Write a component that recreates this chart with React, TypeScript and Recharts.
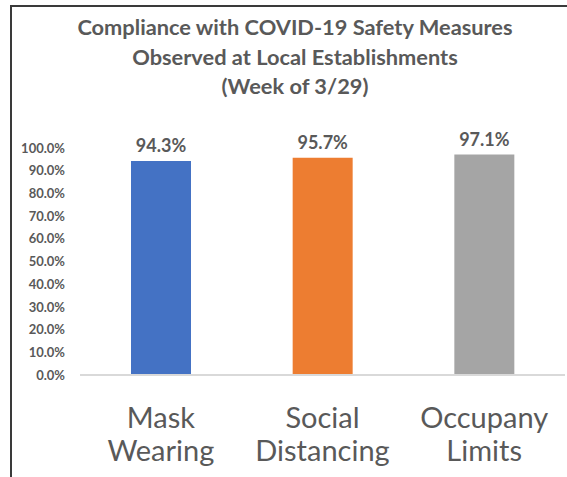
import { BarChart, Bar, XAxis, YAxis, LabelList, Cell } from "recharts";

const categories = ["Mask Wearing", "Social Distancing", "Occupany Limits"];
const categoryLines = [
  ["Mask", "Wearing"],
  ["Social", "Distancing"],
  ["Occupany", "Limits"],
];
const compliance = [0.943, 0.957, 0.971];
const barColors = ["#4472C4", "#ED7D31", "#A5A5A5"];
const yTicks = [0, 0.1, 0.2, 0.3, 0.4, 0.5, 0.6, 0.7, 0.8, 0.9, 1.0];
const titleLines = [
  "Compliance with COVID-19 Safety Measures",
  "Observed at Local Establishments",
  "(Week of 3/29)",
];

const TEXT = "#595959";
const FONT = "Lato, 'Open Sans', sans-serif";

const data = categories.map((name, i) => ({
  name,
  lines: categoryLines[i],
  value: compliance[i],
}));

const pct = (v: number) => (v * 100).toFixed(1) + "%";

// two-line category label under each bar
const CategoryTick = (props: any) => {
  const { x, y, index } = props;
  const lines = categoryLines[index] || [];
  return (
    <g transform={`translate(${x},${y})`}>
      {lines.map((line, i) => (
        <text
          key={i}
          x={0}
          y={45 + i * 33}
          textAnchor="middle"
          fill={TEXT}
          fontSize={29}
          fontFamily={FONT}
        >
          {line}
        </text>
      ))}
    </g>
  );
};

export default function App() {
  return (
    <div
      style={{
        position: "absolute",
        left: 0,
        top: 0,
        width: 567,
        height: 477,
        overflow: "hidden",
        background: "#fff",
      }}
    >
      {/* frame: only top and left edges show in the crop */}
      <div
        style={{
          position: "absolute",
          left: 10,
          top: 5,
          width: 600,
          height: 500,
          borderTop: "2px solid #3a3a3a",
          borderLeft: "2px solid #3a3a3a",
        }}
      />
      <div
        style={{
          position: "absolute",
          left: 0,
          top: 12,
          width: 590,
          textAlign: "center",
          fontFamily: FONT,
          fontWeight: 700,
          fontSize: 21.8,
          lineHeight: "29.5px",
          color: TEXT,
        }}
      >
        {titleLines.map((t) => (
          <div key={t}>{t}</div>
        ))}
      </div>
      <div style={{ position: "absolute", left: 0, top: 0 }}>
        <BarChart
          width={567}
          height={477}
          data={data}
          margin={{ top: 148, right: 2, left: 0, bottom: 0 }}
        >
          <XAxis
            dataKey="name"
            height={102}
            tickLine={false}
            axisLine={{ stroke: "#d9d9d9", strokeWidth: 2 }}
            tick={<CategoryTick />}
            interval={0}
          />
          <YAxis
            width={80}
            domain={[0, 1]}
            ticks={yTicks}
            tickFormatter={pct}
            axisLine={false}
            tickLine={false}
            tickSize={0}
            tickMargin={15}
            tick={{
              fill: TEXT,
              fontSize: 13,
              fontWeight: 700,
              fontFamily: FONT,
            }}
          />
          <Bar dataKey="value" barSize={60} isAnimationActive={false}>
            {data.map((d, i) => (
              <Cell key={d.name} fill={barColors[i]} />
            ))}
            <LabelList
              dataKey="value"
              position="top"
              offset={9}
              formatter={(v: any) => pct(Number(v))}
              fill={TEXT}
              fontSize={18}
              fontWeight={700}
              fontFamily={FONT}
            />
          </Bar>
        </BarChart>
      </div>
    </div>
  );
}
